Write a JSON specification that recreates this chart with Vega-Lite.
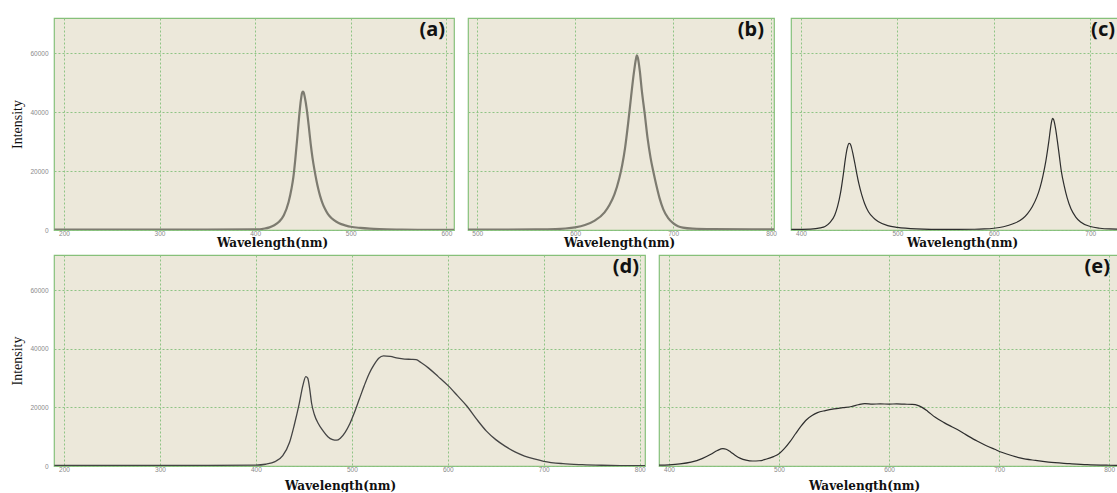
{
  "$schema": "https://vega.github.io/schema/vega-lite/v6.json",
  "padding": {"left": 10, "top": 17, "right": 0, "bottom": 0},
  "background": "white",
  "spacing": 5,
  "config": {
    "view": {"fill": "#ece8da", "stroke": "#86c07a", "strokeWidth": 1.2},
    "axisX": {"grid": true, "gridColor": "#8fc485", "gridDash": [2, 2], "gridWidth": 1, "domain": false, "ticks": false, "labelFontSize": 6.5, "labelColor": "#8a8a8a", "labelFont": "Liberation Sans", "labelPadding": 0, "titleFont": "DejaVu Serif", "titleFontWeight": "bold", "titleFontSize": 12, "titleColor": "#111111", "titleBaseline": "middle", "titleY": 12},
    "axisY": {"grid": true, "gridColor": "#8fc485", "gridDash": [2, 2], "gridWidth": 1, "domain": false, "ticks": false, "labelFontSize": 6.5, "labelColor": "#8a8a8a", "labelFont": "Liberation Sans", "labelPadding": 6, "titleFont": "Liberation Serif", "titleFontWeight": "normal", "titleFontSize": 14, "titleColor": "#111111", "titlePadding": 5},
    "title": {"font": "Noto Sans", "fontWeight": "bold", "fontSize": 20, "color": "#111111", "anchor": "end", "frame": "group", "offset": -22}
  },
  "datasets": {
    "a": [
      {"w": 190, "i": 150}, {"w": 250, "i": 150}, {"w": 300, "i": 150}, {"w": 350, "i": 150}, {"w": 400, "i": 200},
      {"w": 410, "i": 500}, {"w": 415, "i": 900}, {"w": 420, "i": 1600}, {"w": 425, "i": 2800}, {"w": 430, "i": 5000},
      {"w": 435, "i": 9500}, {"w": 438, "i": 14000}, {"w": 440, "i": 18000}, {"w": 442, "i": 24000}, {"w": 444, "i": 31000},
      {"w": 446, "i": 38500}, {"w": 448, "i": 44500}, {"w": 449, "i": 46500}, {"w": 450, "i": 47000}, {"w": 451, "i": 46500},
      {"w": 452, "i": 45000}, {"w": 454, "i": 41000}, {"w": 456, "i": 35500}, {"w": 458, "i": 29500}, {"w": 460, "i": 24500},
      {"w": 462, "i": 20500}, {"w": 464, "i": 17000}, {"w": 466, "i": 14000}, {"w": 468, "i": 11500}, {"w": 470, "i": 9500},
      {"w": 473, "i": 7200}, {"w": 476, "i": 5500}, {"w": 480, "i": 4000}, {"w": 485, "i": 2800}, {"w": 490, "i": 2000},
      {"w": 495, "i": 1500}, {"w": 500, "i": 1100}, {"w": 510, "i": 700}, {"w": 520, "i": 450}, {"w": 530, "i": 300},
      {"w": 550, "i": 150}, {"w": 570, "i": 80}, {"w": 600, "i": 50}, {"w": 608, "i": 50}
    ],
    "b": [
      {"w": 490, "i": 150}, {"w": 520, "i": 150}, {"w": 560, "i": 200}, {"w": 580, "i": 300}, {"w": 590, "i": 500},
      {"w": 600, "i": 900}, {"w": 610, "i": 1700}, {"w": 620, "i": 3200}, {"w": 630, "i": 6000}, {"w": 635, "i": 8500},
      {"w": 640, "i": 12000}, {"w": 645, "i": 17500}, {"w": 648, "i": 22000}, {"w": 651, "i": 28000}, {"w": 654, "i": 36000},
      {"w": 657, "i": 45000}, {"w": 660, "i": 53500}, {"w": 662, "i": 58000}, {"w": 663, "i": 59300}, {"w": 664, "i": 58500},
      {"w": 666, "i": 54000}, {"w": 668, "i": 47500}, {"w": 671, "i": 39500}, {"w": 674, "i": 31000}, {"w": 677, "i": 24500},
      {"w": 680, "i": 19500}, {"w": 683, "i": 15000}, {"w": 686, "i": 11000}, {"w": 690, "i": 7000}, {"w": 695, "i": 4000},
      {"w": 700, "i": 2300}, {"w": 705, "i": 1300}, {"w": 710, "i": 800}, {"w": 720, "i": 450}, {"w": 740, "i": 300},
      {"w": 780, "i": 250}, {"w": 803, "i": 250}
    ],
    "c": [
      {"w": 390, "i": 200}, {"w": 410, "i": 300}, {"w": 420, "i": 700}, {"w": 425, "i": 1200}, {"w": 430, "i": 2500},
      {"w": 435, "i": 5000}, {"w": 438, "i": 8000}, {"w": 441, "i": 12500}, {"w": 444, "i": 19000}, {"w": 446, "i": 24000},
      {"w": 448, "i": 27800}, {"w": 450, "i": 29400}, {"w": 451, "i": 29300}, {"w": 452, "i": 28500}, {"w": 454, "i": 25800},
      {"w": 456, "i": 22500}, {"w": 458, "i": 19000}, {"w": 460, "i": 15800}, {"w": 463, "i": 12000}, {"w": 466, "i": 9000},
      {"w": 470, "i": 6200}, {"w": 475, "i": 4200}, {"w": 480, "i": 2900}, {"w": 490, "i": 1500}, {"w": 500, "i": 900},
      {"w": 520, "i": 400}, {"w": 550, "i": 200}, {"w": 580, "i": 250}, {"w": 590, "i": 350}, {"w": 600, "i": 600},
      {"w": 610, "i": 1100}, {"w": 620, "i": 2100}, {"w": 630, "i": 3900}, {"w": 635, "i": 5600}, {"w": 640, "i": 8000},
      {"w": 645, "i": 11500}, {"w": 648, "i": 14500}, {"w": 651, "i": 18500}, {"w": 654, "i": 23500}, {"w": 657, "i": 30000},
      {"w": 659, "i": 35000}, {"w": 660, "i": 37000}, {"w": 661, "i": 37900}, {"w": 662, "i": 37500}, {"w": 664, "i": 34500},
      {"w": 666, "i": 30000}, {"w": 668, "i": 25000}, {"w": 670, "i": 20000}, {"w": 673, "i": 15000}, {"w": 676, "i": 11000},
      {"w": 680, "i": 7200}, {"w": 685, "i": 4400}, {"w": 690, "i": 2700}, {"w": 700, "i": 1200}, {"w": 710, "i": 600},
      {"w": 720, "i": 350}, {"w": 736, "i": 250}
    ],
    "d": [
      {"w": 190, "i": 200}, {"w": 250, "i": 200}, {"w": 300, "i": 200}, {"w": 350, "i": 200}, {"w": 400, "i": 300},
      {"w": 410, "i": 600}, {"w": 420, "i": 1500}, {"w": 428, "i": 3500}, {"w": 435, "i": 8000}, {"w": 440, "i": 14000},
      {"w": 445, "i": 21000}, {"w": 449, "i": 27500}, {"w": 452, "i": 30500}, {"w": 454, "i": 30000}, {"w": 456, "i": 26500},
      {"w": 458, "i": 21500}, {"w": 461, "i": 17500}, {"w": 465, "i": 14500}, {"w": 470, "i": 12000}, {"w": 475, "i": 10000},
      {"w": 480, "i": 9000}, {"w": 484, "i": 8800}, {"w": 488, "i": 9500}, {"w": 493, "i": 11500}, {"w": 498, "i": 14500},
      {"w": 503, "i": 18500}, {"w": 508, "i": 23000}, {"w": 513, "i": 27500}, {"w": 518, "i": 31500}, {"w": 523, "i": 34500},
      {"w": 528, "i": 36800}, {"w": 533, "i": 37600}, {"w": 540, "i": 37400}, {"w": 548, "i": 36800}, {"w": 555, "i": 36500},
      {"w": 562, "i": 36400}, {"w": 567, "i": 36300}, {"w": 572, "i": 35300}, {"w": 580, "i": 33400}, {"w": 590, "i": 30500},
      {"w": 600, "i": 27500}, {"w": 610, "i": 24000}, {"w": 620, "i": 20400}, {"w": 630, "i": 16000}, {"w": 640, "i": 12000},
      {"w": 650, "i": 9000}, {"w": 660, "i": 6700}, {"w": 670, "i": 4800}, {"w": 680, "i": 3400}, {"w": 690, "i": 2400},
      {"w": 700, "i": 1600}, {"w": 720, "i": 800}, {"w": 740, "i": 450}, {"w": 760, "i": 250}, {"w": 780, "i": 150},
      {"w": 806, "i": 100}
    ],
    "e": [
      {"w": 391, "i": 300}, {"w": 400, "i": 400}, {"w": 410, "i": 700}, {"w": 420, "i": 1300}, {"w": 430, "i": 2500},
      {"w": 438, "i": 4000}, {"w": 444, "i": 5300}, {"w": 449, "i": 5900}, {"w": 452, "i": 5700}, {"w": 456, "i": 4800},
      {"w": 460, "i": 3700}, {"w": 465, "i": 2600}, {"w": 470, "i": 2000}, {"w": 476, "i": 1700}, {"w": 482, "i": 1800},
      {"w": 488, "i": 2300}, {"w": 495, "i": 3200}, {"w": 500, "i": 4200}, {"w": 505, "i": 6000}, {"w": 510, "i": 8300},
      {"w": 515, "i": 11000}, {"w": 520, "i": 13600}, {"w": 525, "i": 15800}, {"w": 530, "i": 17200}, {"w": 535, "i": 18200},
      {"w": 542, "i": 18900}, {"w": 550, "i": 19500}, {"w": 558, "i": 19900}, {"w": 566, "i": 20300}, {"w": 572, "i": 20900},
      {"w": 578, "i": 21300}, {"w": 585, "i": 21100}, {"w": 592, "i": 21200}, {"w": 600, "i": 21100}, {"w": 607, "i": 21200},
      {"w": 614, "i": 21100}, {"w": 621, "i": 21000}, {"w": 626, "i": 20700}, {"w": 630, "i": 20000}, {"w": 635, "i": 18700},
      {"w": 642, "i": 16600}, {"w": 650, "i": 14800}, {"w": 657, "i": 13400}, {"w": 664, "i": 12000}, {"w": 672, "i": 10200},
      {"w": 680, "i": 8500}, {"w": 688, "i": 7000}, {"w": 696, "i": 5700}, {"w": 703, "i": 4600}, {"w": 712, "i": 3500},
      {"w": 720, "i": 2700}, {"w": 733, "i": 1900}, {"w": 745, "i": 1300}, {"w": 764, "i": 800}, {"w": 780, "i": 450},
      {"w": 800, "i": 250}, {"w": 808, "i": 200}
    ]
  },
  "vconcat": [
    {
      "spacing": 12,
      "hconcat": [
        {
          "width": 400, "height": 212,
          "data": {"name": "a"},
          "title": {"text": "(a)", "dx": -9},
          "mark": {"type": "line", "color": "#7d7b70", "strokeWidth": 2.2, "clip": true, "interpolate": "monotone"},
          "encoding": {
            "x": {"field": "w", "type": "quantitative", "scale": {"domain": [189.6, 608], "nice": false, "zero": false}, "axis": {"values": [200, 300, 400, 500, 600], "title": "Wavelength(nm)", "titleX": 218}},
            "y": {"field": "i", "type": "quantitative", "scale": {"domain": [0, 72000], "nice": false}, "axis": {"values": [0, 20000, 40000, 60000], "format": "d", "title": "Intensity"}}
          }
        },
        {
          "width": 306, "height": 212,
          "data": {"name": "b"},
          "title": {"text": "(b)", "dx": -10},
          "mark": {"type": "line", "color": "#7d7b70", "strokeWidth": 2.2, "clip": true, "interpolate": "monotone"},
          "encoding": {
            "x": {"field": "w", "type": "quantitative", "scale": {"domain": [490.6, 803], "nice": false, "zero": false}, "axis": {"values": [500, 600, 700, 800], "title": "Wavelength(nm)", "titleX": 151}},
            "y": {"field": "i", "type": "quantitative", "scale": {"domain": [0, 72000], "nice": false}, "axis": {"values": [0, 20000, 40000, 60000], "labels": false, "title": null}}
          }
        },
        {
          "width": 333, "height": 212,
          "data": {"name": "c"},
          "title": {"text": "(c)", "dx": -9},
          "mark": {"type": "line", "color": "#2e2e2e", "strokeWidth": 1.2, "clip": true, "interpolate": "monotone"},
          "encoding": {
            "x": {"field": "w", "type": "quantitative", "scale": {"domain": [389.7, 735], "nice": false, "zero": false}, "axis": {"values": [400, 500, 600, 700], "title": "Wavelength(nm)", "titleX": 171}},
            "y": {"field": "i", "type": "quantitative", "scale": {"domain": [0, 72000], "nice": false}, "axis": {"values": [0, 20000, 40000, 60000], "labels": false, "title": null}}
          }
        }
      ]
    },
    {
      "spacing": 12,
      "hconcat": [
        {
          "width": 591, "height": 211,
          "data": {"name": "d"},
          "title": {"text": "(d)", "dx": -6},
          "mark": {"type": "line", "color": "#444444", "strokeWidth": 1.3, "clip": true, "interpolate": "monotone"},
          "encoding": {
            "x": {"field": "w", "type": "quantitative", "scale": {"domain": [189.6, 805.5], "nice": false, "zero": false}, "axis": {"values": [200, 300, 400, 500, 600, 700, 800], "title": "Wavelength(nm)", "titleX": 286, "titleY": 19}},
            "y": {"field": "i", "type": "quantitative", "scale": {"domain": [0, 72000], "nice": false}, "axis": {"values": [0, 20000, 40000, 60000], "format": "d", "title": "Intensity"}}
          }
        },
        {
          "width": 460, "height": 211,
          "data": {"name": "e"},
          "title": {"text": "(e)", "dx": -9},
          "mark": {"type": "line", "color": "#2e2e2e", "strokeWidth": 1.2, "clip": true, "interpolate": "monotone"},
          "encoding": {
            "x": {"field": "w", "type": "quantitative", "scale": {"domain": [390.9, 809], "nice": false, "zero": false}, "axis": {"values": [400, 500, 600, 700, 800], "title": "Wavelength(nm)", "titleX": 205, "titleY": 19}},
            "y": {"field": "i", "type": "quantitative", "scale": {"domain": [0, 72000], "nice": false}, "axis": {"values": [0, 20000, 40000, 60000], "labels": false, "title": null}}
          }
        }
      ]
    }
  ]
}
